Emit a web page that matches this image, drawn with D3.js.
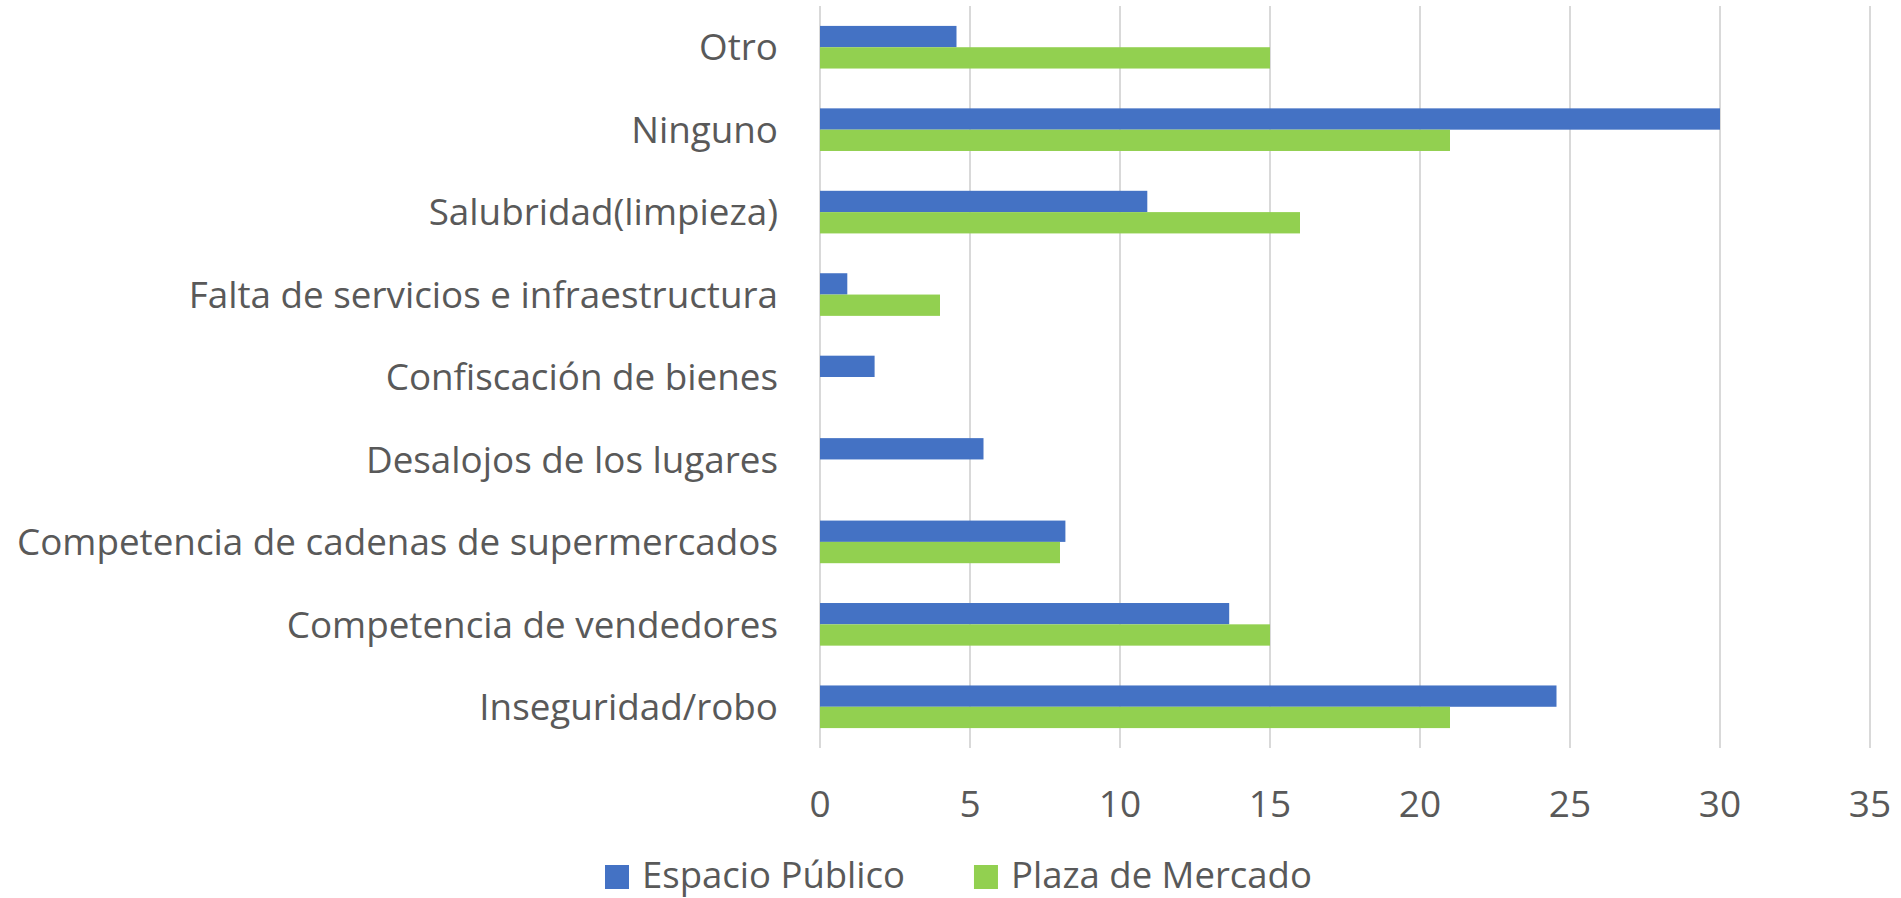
<!DOCTYPE html>
<html lang="es">
<head>
<meta charset="utf-8">
<title>Problemas</title>
<script src="https://d3js.org/d3.v7.min.js"></script>
<style>
  body { margin: 0; background: #fff; }
  text { font-family: "Open Sans", sans-serif; fill: #595959; }
</style>
</head>
<body>
<script>
// categories, top to bottom as shown
var categories = ["Otro", "Ninguno", "Salubridad(limpieza)", "Falta de servicios e infraestructura",
  "Confiscación de bienes", "Desalojos de los lugares", "Competencia de cadenas de supermercados",
  "Competencia de vendedores", "Inseguridad/robo"];
var seriesNames = ["Espacio Público", "Plaza de Mercado"];
var espacioPublico = [4.55, 30, 10.91, 0.91, 1.82, 5.45, 8.18, 13.64, 24.55];
var plazaMercado = [15, 21, 16, 4, 0, 0, 8, 15, 21];
var xTicks = [0, 5, 10, 15, 20, 25, 30, 35];
var colors = ["#4472C4", "#92D050"];

var width = 1901, height = 898;
var plotLeft = 820, plotRight = 1870, plotTop = 6, plotBottom = 748;

var svg = d3.select("body").append("svg")
  .attr("width", width)
  .attr("height", height);

var x = d3.scaleLinear().domain([0, 35]).range([plotLeft, plotRight]);
var y = d3.scaleBand().domain(categories).range([plotTop, plotBottom])
  .paddingInner(0.483).paddingOuter(0.2415);
var ySub = d3.scaleBand().domain(seriesNames).range([0, y.bandwidth()]);
var color = d3.scaleOrdinal().domain(seriesNames).range(colors);

// gridlines
svg.append("g").selectAll("line")
  .data(xTicks).enter().append("line")
  .attr("x1", function(d) { return x(d); })
  .attr("x2", function(d) { return x(d); })
  .attr("y1", plotTop).attr("y2", plotBottom)
  .attr("stroke", "#D9D9D9").attr("stroke-width", 2);

var rows = categories.map(function(c, i) {
  return { cat: c, values: [espacioPublico[i], plazaMercado[i]] };
});

var groups = svg.append("g").selectAll("g")
  .data(rows).enter().append("g")
  .attr("transform", function(d) { return "translate(0," + y(d.cat) + ")"; });

groups.selectAll("rect")
  .data(function(d) { return d.values.map(function(v, j) { return { s: seriesNames[j], v: v }; }); })
  .enter().append("rect")
  .attr("x", x(0))
  .attr("y", function(d) { return ySub(d.s); })
  .attr("width", function(d) { return x(d.v) - x(0); })
  .attr("height", ySub.bandwidth())
  .attr("fill", function(d) { return color(d.s); });

// category labels
svg.append("g").selectAll("text")
  .data(categories).enter().append("text")
  .attr("x", 778)
  .attr("y", function(d) { return y(d) + y.bandwidth() / 2; })
  .attr("dy", "0.36em")
  .attr("text-anchor", "end")
  .style("font-size", "36.8px")
  .text(function(d) { return d; });

// x tick labels
svg.append("g").selectAll("text")
  .data(xTicks).enter().append("text")
  .attr("x", function(d) { return x(d); })
  .attr("y", 817)
  .attr("text-anchor", "middle")
  .style("font-size", "37px")
  .text(function(d) { return d; });

// legend
var legend = svg.append("g");
var lx = 605;
seriesNames.forEach(function(s) {
  legend.append("rect")
    .attr("x", lx).attr("y", 865)
    .attr("width", 24).attr("height", 24)
    .attr("fill", color(s));
  var t = legend.append("text")
    .attr("x", lx + 37).attr("y", 888)
    .style("font-size", "36.5px")
    .text(s);
  lx = lx + 37 + t.node().getComputedTextLength() + 69;
});
</script>
</body>
</html>
